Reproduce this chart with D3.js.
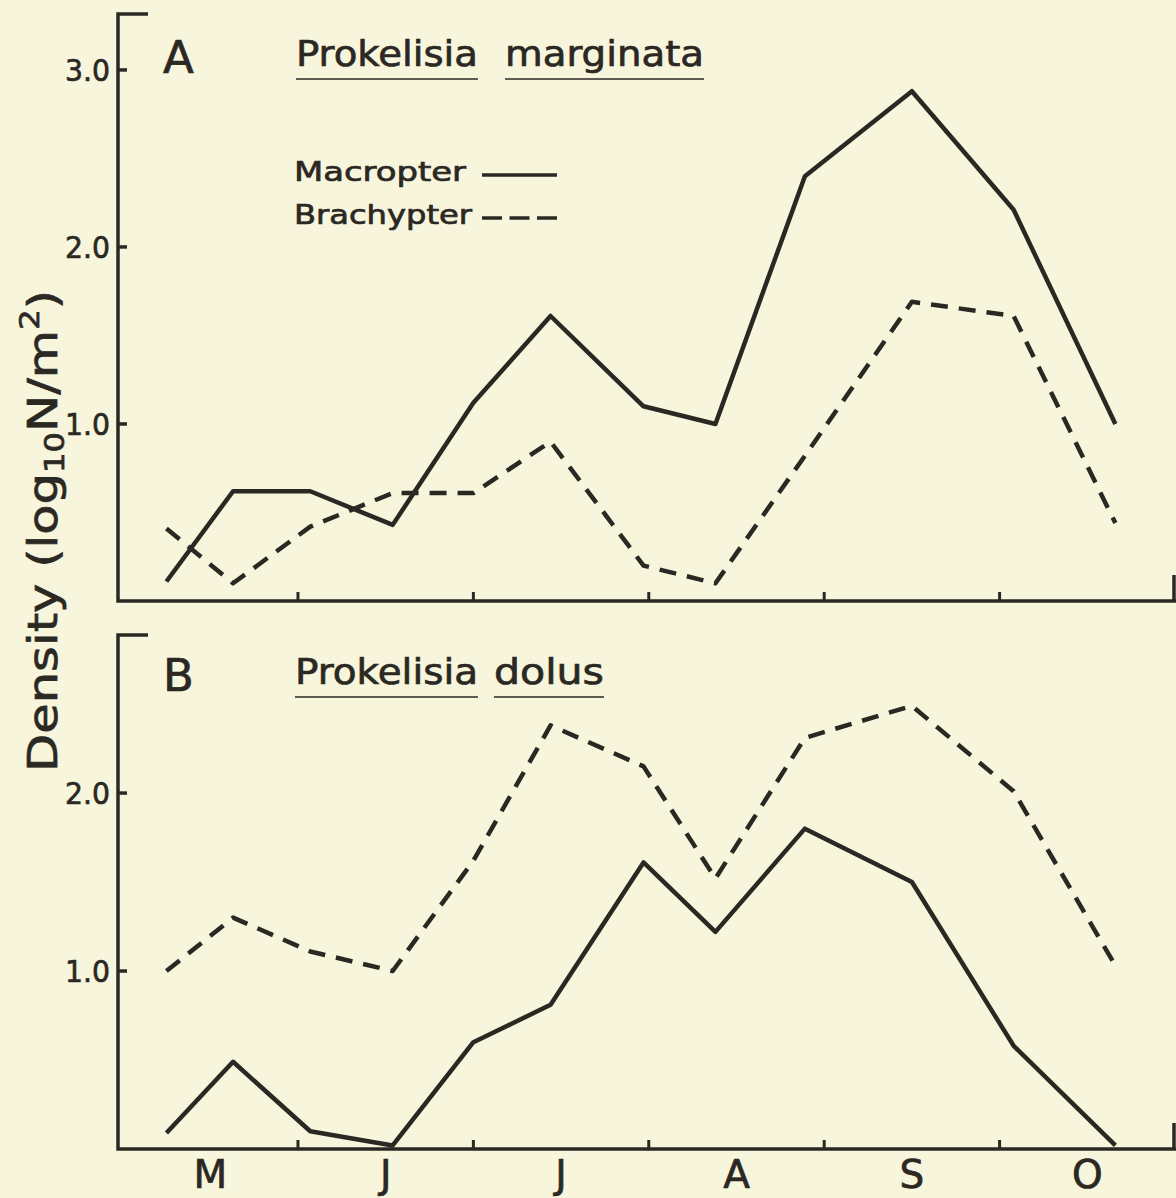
<!DOCTYPE html>
<html>
<head>
<meta charset="utf-8">
<script src="https://cdn.jsdelivr.net/npm/d3@7"></script>
<style>
  html, body { margin: 0; padding: 0; background: #f8f5dd; }
  svg { display: block; }
  text { font-family: 'DejaVu Sans', sans-serif; fill: #2b2823; stroke: #2b2823; stroke-width: 0.7px; }
</style>
</head>
<body>
<svg></svg>
<script>
  //Sampling dates, in months after 1 May
  const months = [0.25, 0.63, 1.07, 1.54, 2.0, 2.44, 2.97, 3.38, 3.89, 4.5, 5.08, 5.66];
  //Month labels sit between the month ticks
  const monthLabels = ['M', 'J', 'J', 'A', 'S', 'O'];

  //Panel A, Prokelisia marginata (log10 N/m2)
  const marginataMacropter = [0.11, 0.62, 0.62, 0.43, 1.12, 1.61, 1.10, 1.00, 2.40, 2.88, 2.21, 1.00];
  const marginataBrachypter = [0.41, 0.10, 0.42, 0.61, 0.61, 0.90, 0.20, 0.10, 0.82, 1.69, 1.61, 0.44];

  //Panel B, Prokelisia dolus (log10 N/m2)
  const dolusMacropter = [0.09, 0.49, 0.10, 0.02, 0.60, 0.81, 1.61, 1.22, 1.80, 1.50, 0.58, 0.02];
  const dolusBrachypter = [1.00, 1.30, 1.11, 1.00, 1.62, 2.38, 2.15, 1.52, 2.31, 2.49, 2.01, 1.03];

  //Y tick labels for each panel
  const ticksA = [1, 2, 3];
  const ticksB = [1, 2];

  const width = 1176;
  const height = 1198;
  const ink = '#2b2823';

  const svg = d3.select('svg')
    .attr('width', width)
    .attr('height', height);

  //Shared month axis
  const x = d3.scaleLinear().domain([-0.026, 6]).range([118, 1175]);

  //One y scale per panel
  const yA = d3.scaleLinear().domain([0, 3.316]).range([601, 14]);
  const yB = d3.scaleLinear().domain([0, 2.888]).range([1149, 635]);

  const line = y => d3.line()
    .x((d, i) => x(months[i]))
    .y(d => y(d));

  //Draws one panel: frame, ticks, two series
  function drawPanel(y, ticks, macro, brachy) {
    const g = svg.append('g');
    const x0 = x.range()[0];
    const yBottom = y.range()[0];
    const yTop = y.range()[1];

    //Left axis with small cap at the top
    g.append('path')
      .attr('d', `M${x0 + 30},${yTop} H${x0} V${yBottom} H${width}`)
      .attr('fill', 'none')
      .attr('stroke', ink)
      .attr('stroke-width', 3.5);

    //Right frame stub
    g.append('line')
      .attr('x1', x(6) - 1).attr('x2', x(6) - 1)
      .attr('y1', yBottom).attr('y2', yBottom - 26)
      .attr('stroke', ink)
      .attr('stroke-width', 3.5);

    //Y ticks, pointing inward, and their labels
    g.selectAll('.ytick')
      .data(ticks)
      .enter().append('line')
      .attr('x1', x0).attr('x2', x0 + 9)
      .attr('y1', d => y(d)).attr('y2', d => y(d))
      .attr('stroke', ink)
      .attr('stroke-width', 3.5);

    g.selectAll('.ylabel')
      .data(ticks)
      .enter().append('text')
      .attr('x', 110)
      .attr('y', d => y(d))
      .attr('dy', '0.36em')
      .attr('text-anchor', 'end')
      .attr('font-size', 31)
      .attr('textLength', 45)
      .attr('lengthAdjust', 'spacingAndGlyphs')
      .text(d => d.toFixed(1));

    //Month boundary ticks on the bottom axis
    g.selectAll('.xtick')
      .data([1, 2, 3, 4, 5])
      .enter().append('line')
      .attr('x1', d => x(d)).attr('x2', d => x(d))
      .attr('y1', yBottom).attr('y2', yBottom - 9)
      .attr('stroke', ink)
      .attr('stroke-width', 3);

    //Macropter, solid
    g.append('path')
      .datum(macro)
      .attr('d', line(y))
      .attr('fill', 'none')
      .attr('stroke', ink)
      .attr('stroke-width', 4.5)
      .attr('stroke-linejoin', 'round');

    //Brachypter, dashed
    g.append('path')
      .datum(brachy)
      .attr('d', line(y))
      .attr('fill', 'none')
      .attr('stroke', ink)
      .attr('stroke-width', 4.5)
      .attr('stroke-dasharray', '17,11')
      .attr('stroke-linejoin', 'round');

    return g;
  }

  const panelA = drawPanel(yA, ticksA, marginataMacropter, marginataBrachypter);
  const panelB = drawPanel(yB, ticksB, dolusMacropter, dolusBrachypter);

  //Panel letter and underlined species name, word by word
  function title(g, letter, baseline, words) {
    g.append('text')
      .attr('x', 163)
      .attr('y', baseline + 7)
      .attr('font-size', 45)
      .text(letter);

    words.forEach(w => {
      g.append('text')
        .attr('x', w.x)
        .attr('y', baseline)
        .attr('font-size', 36)
        .attr('textLength', w.len)
        .attr('lengthAdjust', 'spacingAndGlyphs')
        .text(w.text);
      g.append('line')
        .attr('x1', w.x).attr('x2', w.x + w.len)
        .attr('y1', baseline + 13).attr('y2', baseline + 13)
        .attr('stroke', ink)
        .attr('stroke-width', 1.5);
    });
  }

  title(panelA, 'A', 66, [
    { text: 'Prokelisia', x: 296, len: 182 },
    { text: 'marginata', x: 505, len: 199 },
  ]);
  title(panelB, 'B', 684, [
    { text: 'Prokelisia', x: 295, len: 183 },
    { text: 'dolus', x: 494, len: 110 },
  ]);

  //Legend in panel A
  const legend = panelA.append('g');
  const legendRows = [
    { label: 'Macropter', y: 181, len: 172, dash: null },
    { label: 'Brachypter', y: 224, len: 178, dash: '20,7.5' },
  ];
  legendRows.forEach(r => {
    legend.append('text')
      .attr('x', 294)
      .attr('y', r.y)
      .attr('font-size', 27)
      .attr('textLength', r.len)
      .attr('lengthAdjust', 'spacingAndGlyphs')
      .text(r.label);
    legend.append('line')
      .attr('x1', 482).attr('x2', 557)
      .attr('y1', r.y - 6).attr('y2', r.y - 6)
      .attr('stroke', ink)
      .attr('stroke-width', 3.5)
      .attr('stroke-dasharray', r.dash);
  });

  //Month letters under panel B
  svg.append('g')
    .selectAll('text')
    .data(monthLabels)
    .enter().append('text')
    .attr('x', (d, i) => x(i + 0.5))
    .attr('y', 1188)
    .attr('text-anchor', 'middle')
    .attr('font-size', 39)
    .text(d => d);

  //Shared y axis title
  const yTitle = svg.append('text')
    .attr('transform', 'translate(57,531) rotate(-90)')
    .attr('text-anchor', 'middle')
    .attr('font-size', 40)
    .attr('textLength', 482)
    .attr('lengthAdjust', 'spacingAndGlyphs');
  yTitle.append('tspan').text('Density (log');
  yTitle.append('tspan').attr('font-size', 26).attr('baseline-shift', '-25%').text('10');
  yTitle.append('tspan').text('N/m');
  yTitle.append('tspan').attr('font-size', 26).attr('baseline-shift', '70%').text('2');
  yTitle.append('tspan').text(')');
</script>
</body>
</html>
